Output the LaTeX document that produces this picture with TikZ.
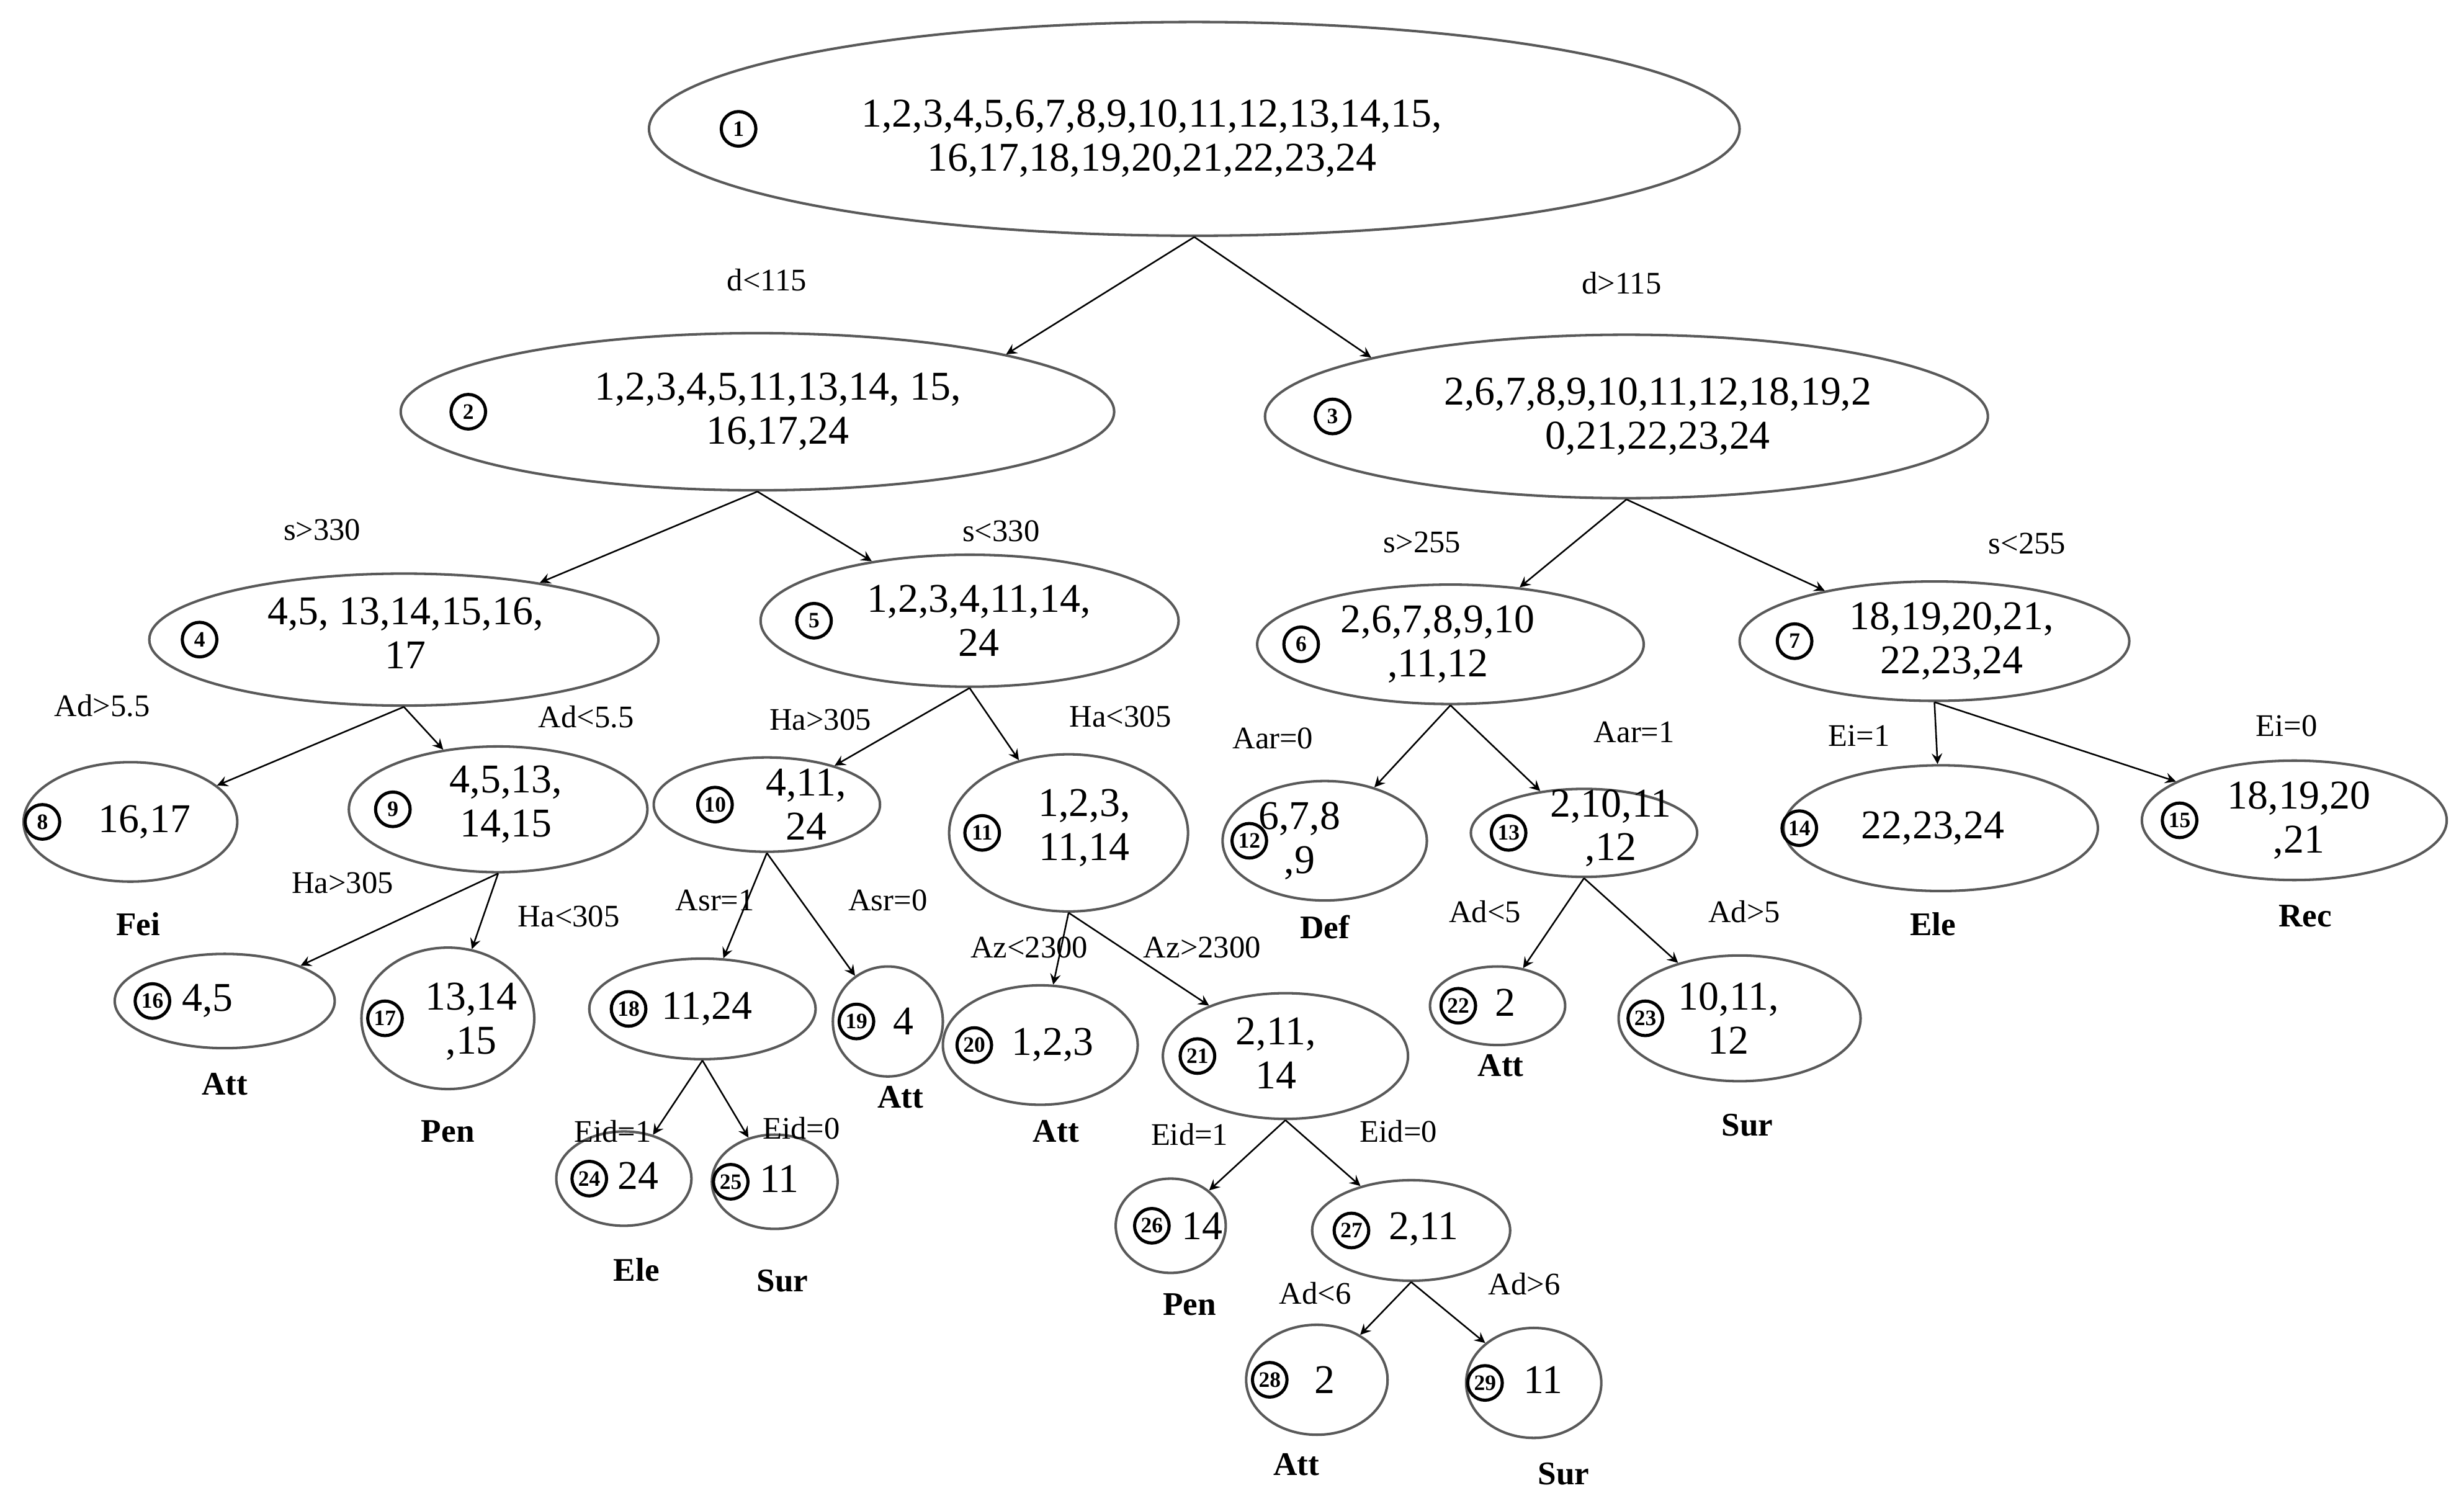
\documentclass[tikz,border=0pt]{standalone}
\usepackage{fontspec}
\setmainfont{Liberation Serif}
\usetikzlibrary{shapes.geometric}
\tikzset{
 el/.style={ellipse,draw=black!65,line width=0.8pt,inner sep=0pt},
 tx/.style={font=\fontsize{13}{14}\selectfont,align=center,inner sep=0pt},
 lb/.style={font=\fontsize{10}{11}\selectfont,inner sep=0pt},
 cl/.style={font=\bfseries\fontsize{10.5}{11}\selectfont,inner sep=0pt},
 cn/.style={circle,draw,line width=1pt,inner sep=0pt,minimum size=11pt,font=\bfseries\fontsize{7}{7}\selectfont},
 ar/.style={->,>=stealth,line width=0.5pt}
}
\newcommand{\E}[8]{% name, x, y, rx, ry, numx, num, text+pos
 \node[el,minimum width=#4pt,minimum height=#5pt] (n#1) at (#2,#3) {};
 \node[cn] (c#1) at (#6,#3) {#7};
 #8}
\begin{document}
\begin{tikzpicture}[x=0.5pt,y=-0.5pt]
\useasboundingbox (0,0) rectangle (1568,958);
\E{1}{760}{82}{347}{68}{470}{1}{\node[tx] (t1) at (733,88) {1,2,3,4,5,6,7,8,9,10,11,12,13,14,15,\\16,17,18,19,20,21,22,23,24};}
\E{2}{482}{262}{227}{50}{298}{2}{\node[tx] (t2) at (495,262) {1,2,3,4,5,11,13,14, 15,\\16,17,24};}
\E{3}{1035}{265}{230}{52}{848}{3}{\node[tx] (t3) at (1055,265) {2,6,7,8,9,10,11,12,18,19,2\\0,21,22,23,24};}
\E{4}{257}{407}{162}{42}{127}{4}{\node[tx] (t4) at (258,403) {4,5, 13,14,15,16,\\17};}
\E{5}{617}{395}{133}{42}{518}{5}{\node[tx] (t5) at (623,395) {1,2,3,4,11,14,\\24};}
\E{6}{923}{410}{123}{38}{828}{6}{\node[tx] (t6) at (915,410) {2,6,7,8,9,10\\,11,12};}
\E{7}{1231}{408}{124}{38}{1142}{7}{\node[tx] (t7) at (1242,408) {18,19,20,21,\\22,23,24};}
\E{8}{83}{523}{68}{38}{27}{8}{\node[tx] (t8) at (92,523) {16,17};}
\E{9}{317}{515}{95}{40}{250}{9}{\node[tx] (t9) at (322,512) {4,5,13,\\14,15};}
\E{10}{488}{512}{72}{30}{455}{10}{\node[tx] (t10) at (513,512) {4,11,\\24};}
\E{11}{680}{530}{76}{50}{625}{11}{\node[tx] (t11) at (690,527) {1,2,3,\\11,14};}
\E{12}{843}{535}{65}{38}{795}{12}{\node[tx] (t12) at (827,535) {6,7,8\\,9};}
\E{13}{1008}{530}{72}{28}{960}{13}{\node[tx] (t13) at (1025,527) {2,10,11\\,12};}
\E{14}{1235}{527}{100}{40}{1145}{14}{\node[tx] (t14) at (1230,527) {22,23,24};}
\E{15}{1460}{522}{97}{38}{1387}{15}{\node[tx] (t15) at (1463,522) {18,19,20\\,21};}
\E{16}{143}{637}{70}{30}{97}{16}{\node[tx] (t16) at (132,637) {4,5};}
\E{17}{285}{648}{55}{45}{245}{17}{\node[tx] (t17) at (300,650) {13,14\\,15};}
\E{18}{447}{642}{72}{32}{400}{18}{\node[tx] (t18) at (450,642) {11,24};}
\E{19}{565}{650}{35}{35}{545}{19}{\node[tx] (t19) at (575,650) {4};}
\E{20}{662}{665}{62}{38}{620}{20}{\node[tx] (t20) at (670,665) {1,2,3};}
\E{21}{818}{672}{78}{40}{762}{21}{\node[tx] (t21) at (812,670) {2,11,\\14};}
\E{22}{953}{640}{43}{25}{928}{22}{\node[tx] (t22) at (958,638) {2};}
\E{23}{1107}{648}{77}{40}{1047}{23}{\node[tx] (t23) at (1100,648) {10,11,\\12};}
\E{24}{397}{750}{43}{30}{375}{24}{\node[tx] (t24) at (406,748) {24};}
\E{25}{493}{752}{40}{30}{465}{25}{\node[tx] (t25) at (496,750) {11};}
\E{26}{745}{780}{35}{30}{733}{26}{\node[tx] (t26) at (765,780) {14};}
\E{27}{898}{783}{63}{32}{860}{27}{\node[tx] (t27) at (906,782) {2,11};}
\E{28}{838}{878}{45}{35}{808}{28}{\node[tx] (t28) at (843,878) {2};}
\E{29}{976}{880}{43}{35}{945}{29}{\node[tx] (t29) at (982,878) {11};}
\draw[ar] (n1.south) -- (n2.13);
\draw[ar] (n1.south) -- (n3.167);
\foreach \p/\a/\b in {2/4/5,3/6/7,4/8/9,5/10/11,6/12/13,7/14/15,9/16/17,10/18/19,11/20/21,13/22/23,18/24/25,21/26/27,27/28/29}{
 \draw[ar] (n\p.south) -- (n\a);
 \draw[ar] (n\p.south) -- (n\b);
}
\foreach \x/\y/\t [count=\i] in {488/178/d<115,1032/180/d>115,205/337/s>330,637/338/s<330,905/345/s>255,1290/346/s<255,65/449/Ad>5.5,373/456/Ad<5.5,522/458/Ha>305,713/456/Ha<305,810/470/Aar=0,1040/466/Aar=1,1183/468/Ei=1,1455/462/Ei=0,218/562/Ha>305,362/583/Ha<305,455/573/Asr=1,565/573/Asr=0,655/603/Az<2300,765/603/Az>2300,945/580/Ad<5,1110/580/Ad>5,390/720/Eid=1,510/718/Eid=0,757/722/Eid=1,890/720/Eid=0,837/823/Ad<6,970/817/Ad>6}
 \node[lb] (l\i) at (\x,\y) {\t};
\foreach \x/\y/\t [count=\i] in {88/588/Fei,843/590/Def,1230/588/Ele,1467/583/Rec,143/690/Att,285/720/Pen,573/698/Att,672/720/Att,955/678/Att,1112/716/Sur,405/808/Ele,498/815/Sur,757/830/Pen,825/932/Att,995/938/Sur}
 \node[cl] (k\i) at (\x,\y) {\t};
\end{tikzpicture}
\end{document}
